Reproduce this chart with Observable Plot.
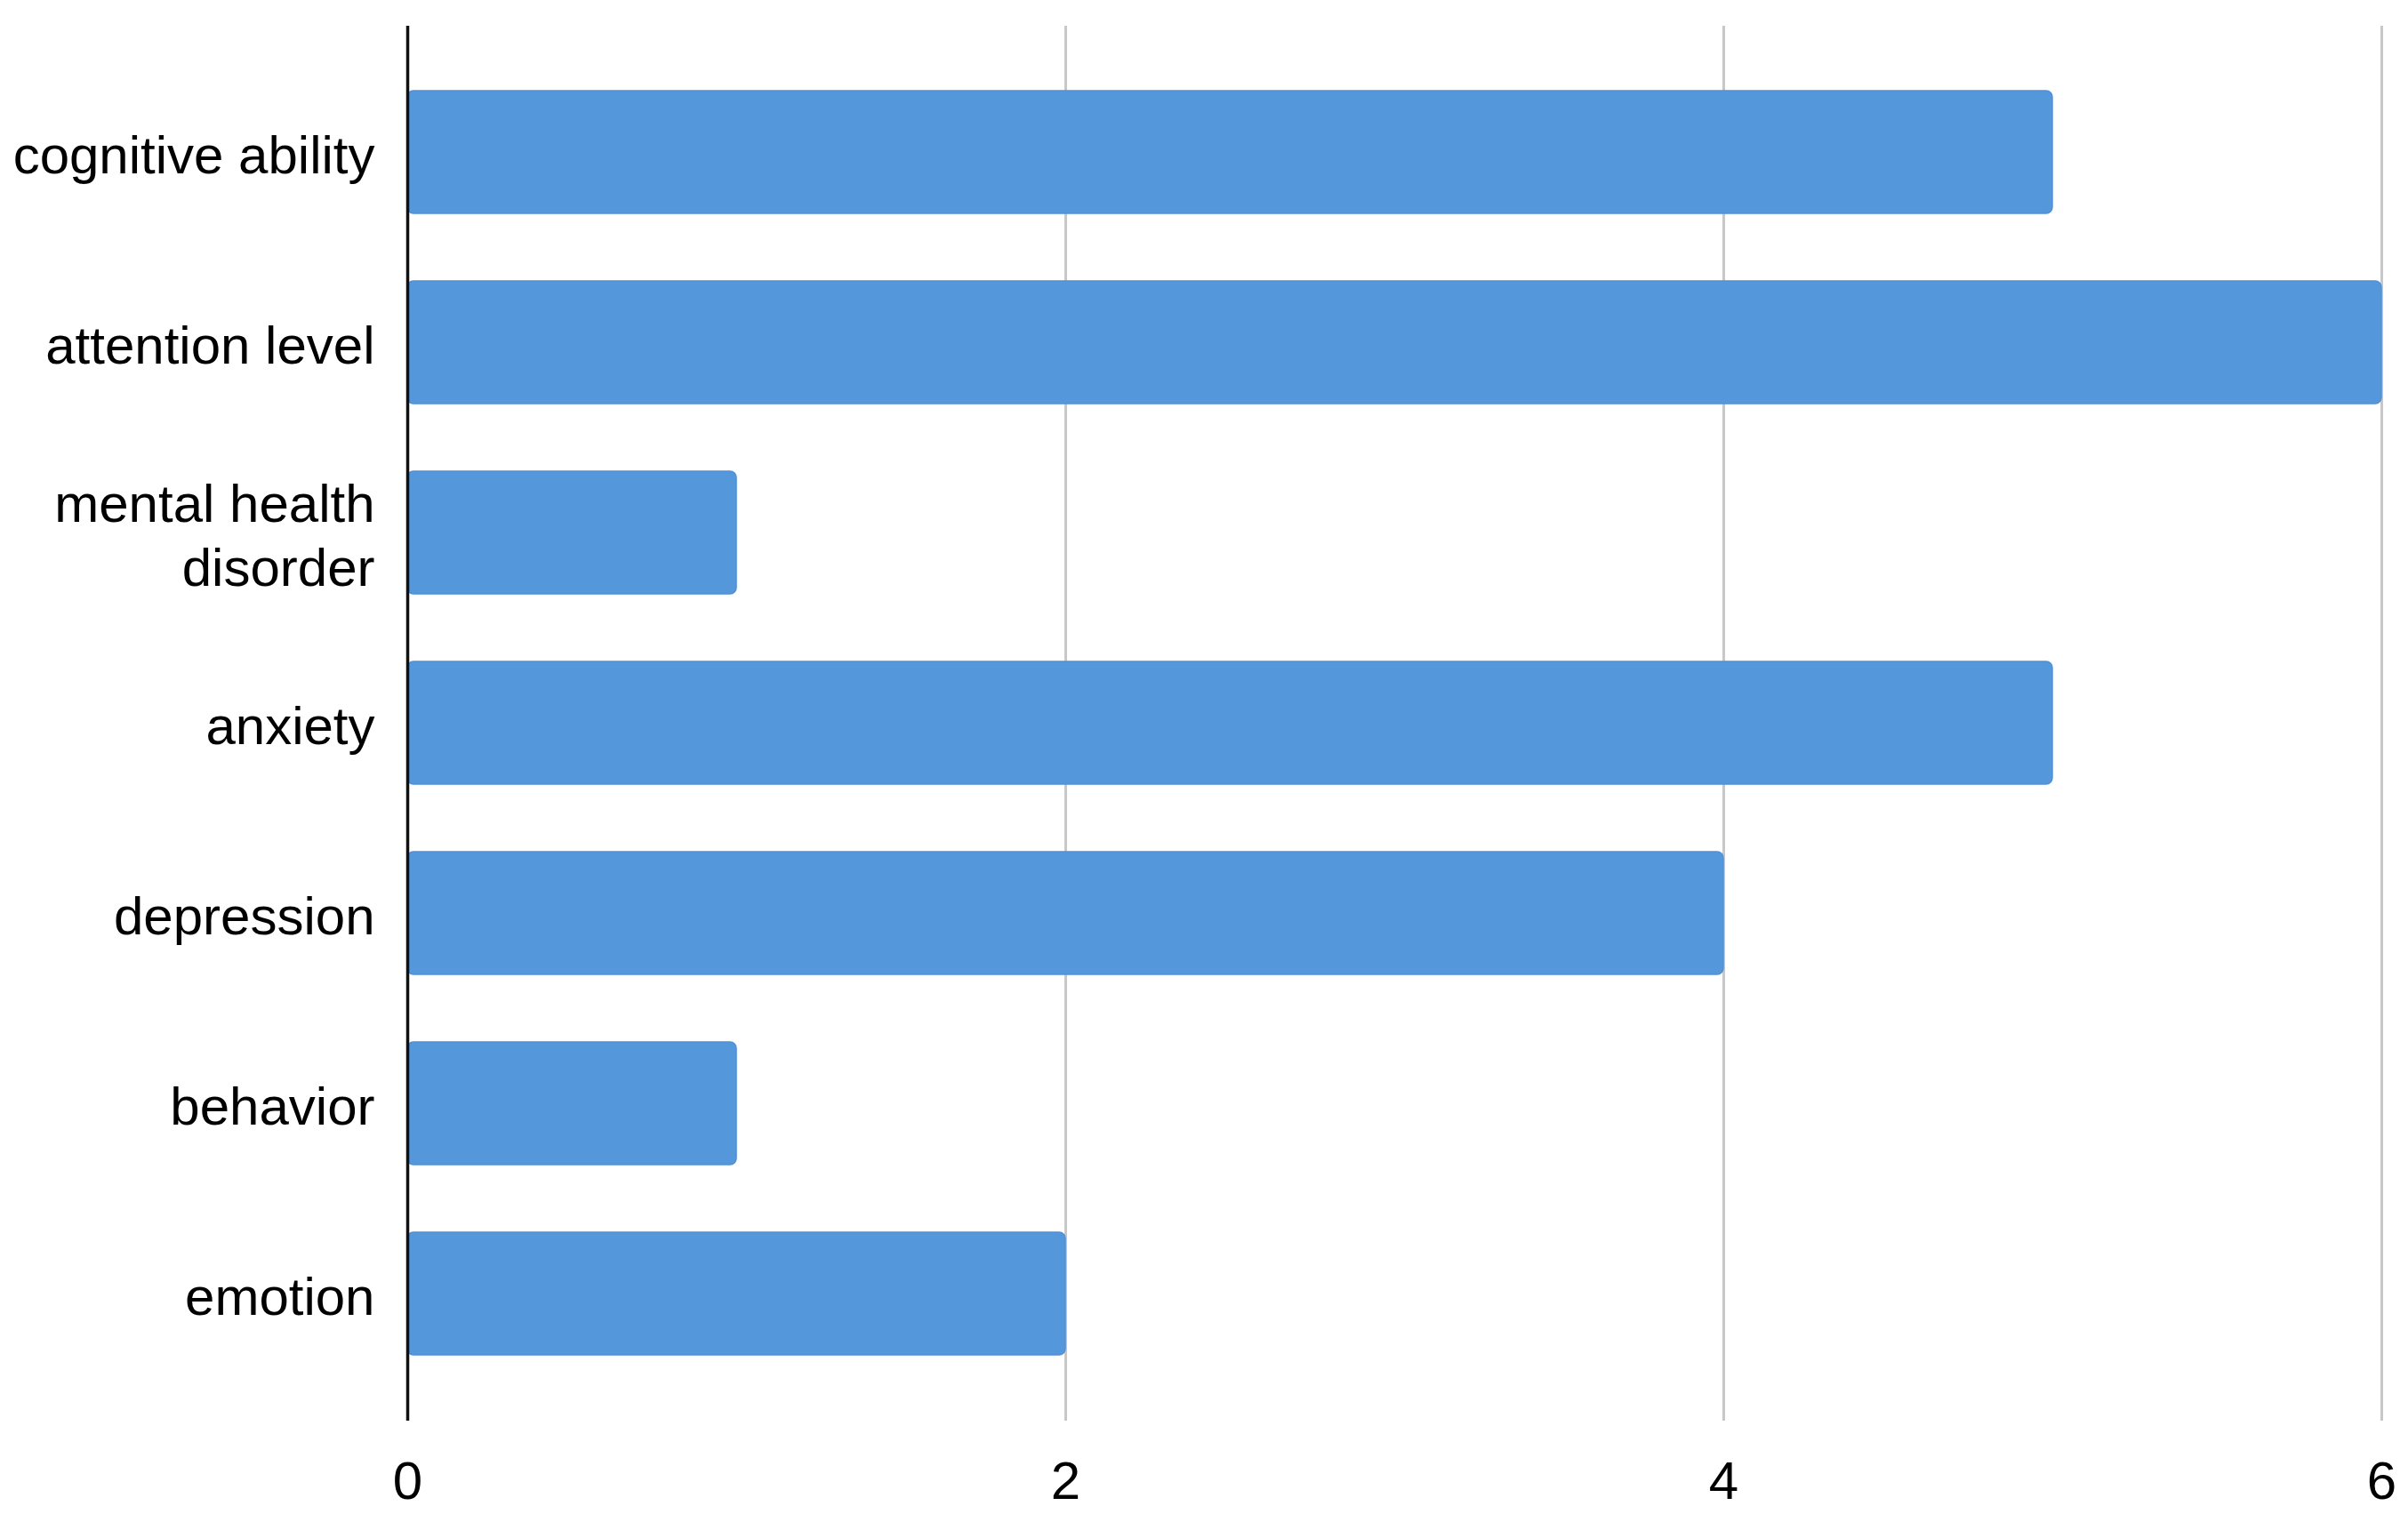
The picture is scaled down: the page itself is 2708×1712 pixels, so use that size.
<!DOCTYPE html>
<html>
<head>
<meta charset="utf-8">
<script src="https://cdn.jsdelivr.net/npm/d3@7"></script>
<script src="https://cdn.jsdelivr.net/npm/@observablehq/plot@0.6"></script>
<style>
  html, body { margin: 0; padding: 0; background: #fff; }
  #chart { width: 2708px; height: 1712px; }
</style>
</head>
<body>
<div id="chart"></div>
<script>
const categories = ["cognitive ability", "attention level", "mental health disorder", "anxiety", "depression", "behavior", "emotion"];
const categoryLabels = ["cognitive ability", "attention level", "mental health\ndisorder", "anxiety", "depression", "behavior", "emotion"];
const values = [5, 6, 1, 5, 4, 1, 2];
const xTicks = [0, 2, 4, 6];

const data = categories.map((c, i) => ({category: c, value: values[i]}));
const labelOf = new Map(categories.map((c, i) => [c, categoryLabels[i]]));

const chart = Plot.plot({
  width: 2708,
  height: 1712,
  marginLeft: 458,
  marginRight: 30,
  marginTop: 29,
  marginBottom: 114,
  style: {fontFamily: "'Liberation Sans', Arial, sans-serif", fontSize: "60px", color: "#000", background: "#fff"},
  x: {domain: [0, 6], ticks: xTicks, label: null},
  y: {domain: categories, label: null, paddingInner: 0.355, paddingOuter: 0.343},
  marks: [
    Plot.ruleX(xTicks.filter(d => d > 0), {stroke: "#c8c8c8", strokeWidth: 3}),
    Plot.barX(data, {y: "category", x: "value", fill: "#5597db", stroke: "#4f90d8", strokeWidth: 1.5, rx: 7}),
    Plot.ruleX([0], {stroke: "#111", strokeWidth: 3.5}),
    Plot.axisX({ticks: xTicks, tickSize: 0, tickPadding: 45, fontSize: 60, label: null, tickFormat: d => String(d)}),
    Plot.axisY({tickSize: 0, tickPadding: 37, fontSize: 60, label: null, lineHeight: 1.2, tickFormat: d => labelOf.get(d)})
  ]
});
document.getElementById("chart").appendChild(chart);
</script>
</body>
</html>
